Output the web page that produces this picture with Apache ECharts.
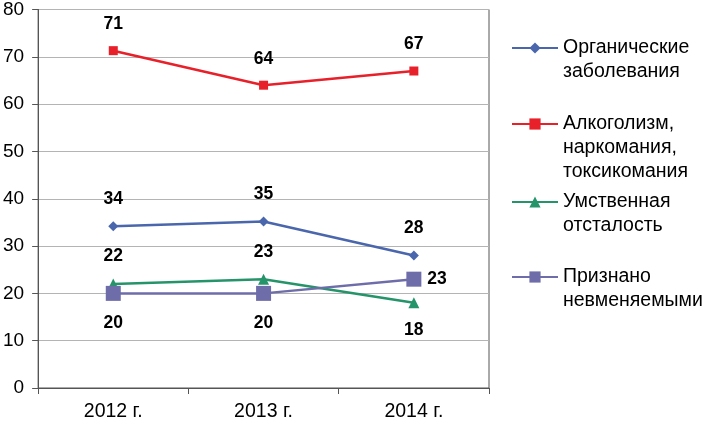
<!DOCTYPE html>
<html><head><meta charset="utf-8">
<script src="https://cdn.jsdelivr.net/npm/echarts@6/dist/echarts.min.js"></script>
<style>html,body{margin:0;padding:0;background:#fff}#c{width:704px;height:426px}</style>
</head><body><div id="c"></div>
<script>
const categories = ['2012 г.', '2013 г.', '2014 г.'];
const seriesNames = [
  'Органические\nзаболевания',
  'Алкоголизм,\nнаркомания,\nтоксикомания',
  'Умственная\nотсталость',
  'Признано\nневменяемыми'
];
const organic = [34.2, 35.2, 28];
const alcohol = [71.3, 64, 67];
const retardation = [22, 23, 18];
const insane = [20, 20, 23];
const labelsOrganic = [34, 35, 28];
const labelsAlcohol = [71, 64, 67];
const labelsRetard = [22, 23, 18];
const labelsInsane = [20, 20, 23];
const yTicks = [0, 10, 20, 30, 40, 50, 60, 70, 80];

const colors = ['#4A66AC', '#E8202A', '#26946A', '#6E6DAA'];
const symbols = ['diamond', 'rect', 'triangle', 'rect'];
const symbolSizes = [10, 9, 11, 15];
const labelPos = [
  ['top', 'top', 'top'],
  ['top', 'top', 'top'],
  ['top', 'top', 'bottom'],
  ['bottom', 'bottom', 'right']
];
const values = [organic, alcohol, retardation, insane];
const labelTexts = [labelsOrganic, labelsAlcohol, labelsRetard, labelsInsane];
const FONT = 'Liberation Sans, Arial, sans-serif';

const chart = echarts.init(document.getElementById('c'));
const series = values.map((vals, si) => ({
  name: seriesNames[si],
  type: 'line',
  data: vals.map((v, i) => ({
    value: v,
    label: {
      position: labelPos[si][i],
      distance: labelPos[si][i] === 'right' ? 6 : 13,
      formatter: String(labelTexts[si][i])
    }
  })),
  symbol: symbols[si],
  symbolSize: symbolSizes[si],
  showAllSymbol: true,
  lineStyle: { color: colors[si], width: 2.5 },
  itemStyle: { color: colors[si] },
  label: {
    show: true,
    color: '#000',
    fontFamily: FONT,
    fontWeight: 'bold',
    fontSize: 17.5
  },
  animation: false
}));

const LH = 24;
const legendCenters = [48, 124, 202, 277];
const lineCounts = seriesNames.map(n => n.split('\n').length);
const legends = seriesNames.map((n, i) => ({
  data: [n],
  formatter: name => '\n'.repeat(name.split('\n').length - 1) + name,
  left: 511,
  top: legendCenters[i] - (2 * lineCounts[i] - 1) * LH / 2,
  orient: 'vertical',
  itemWidth: 46,
  itemHeight: 14,
  itemGap: 0,
  padding: 0,
  textStyle: {
    fontFamily: FONT,
    fontSize: 19.5,
    color: '#000',
    lineHeight: LH
  },
  selectedMode: false
}));

chart.setOption({
  backgroundColor: '#fff',
  animation: false,
  color: colors,
  legend: legends,
  grid: { left: 37, right: 215, top: 7, bottom: 38, show: true, borderColor: '#555', borderWidth: 1 },
  xAxis: {
    type: 'category',
    data: categories,
    boundaryGap: true,
    axisLine: { lineStyle: { color: '#555', width: 1 } },
    axisTick: { show: true, length: 6, lineStyle: { color: '#555' } },
    axisLabel: { color: '#000', fontSize: 19.5, margin: 14, fontFamily: FONT }
  },
  yAxis: {
    type: 'value',
    min: yTicks[0],
    max: yTicks[yTicks.length - 1],
    interval: yTicks[1] - yTicks[0],
    axisLine: { show: true, lineStyle: { color: '#555', width: 1 } },
    axisTick: { show: true, length: 6, lineStyle: { color: '#555' } },
    splitLine: { lineStyle: { color: '#b4b4b4', width: 1 } },
    axisLabel: { color: '#000', fontSize: 19, margin: 14, fontFamily: FONT }
  },
  series: series
});
</script></body></html>
